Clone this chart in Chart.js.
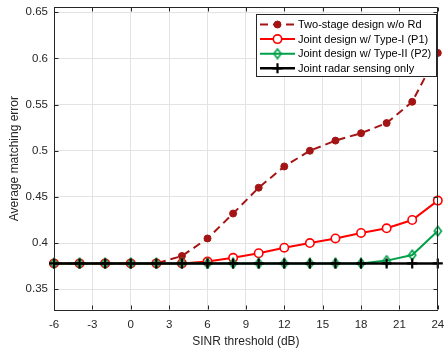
<!DOCTYPE html>
<html>
<head>
<meta charset="utf-8">
<script src="https://cdn.jsdelivr.net/npm/chart.js@4/dist/chart.umd.min.js"></script>
<style>
  html, body { margin: 0; padding: 0; background: #fff; }
  canvas { display: block; }
</style>
</head>
<body>
<canvas id="c" width="445" height="352"></canvas>
<script>
// SINR thresholds (dB) and average matching error per scheme
const sinr = [-6, -4, -2, 0, 2, 4, 6, 8, 10, 12, 14, 16, 18, 20, 22, 24];
const twoStage = [0.378, 0.378, 0.378, 0.378, 0.378, 0.386, 0.405, 0.432, 0.460, 0.483, 0.500, 0.511, 0.519, 0.530, 0.553, 0.606];
const typeI    = [0.378, 0.378, 0.378, 0.378, 0.378, 0.378, 0.380, 0.384, 0.389, 0.395, 0.400, 0.405, 0.411, 0.416, 0.425, 0.446];
const typeII   = [0.378, 0.378, 0.378, 0.378, 0.378, 0.378, 0.378, 0.378, 0.378, 0.378, 0.378, 0.378, 0.378, 0.381, 0.387, 0.413];
const radarOnly = [0.378, 0.378, 0.378, 0.378, 0.378, 0.378, 0.378, 0.378, 0.378, 0.378, 0.378, 0.378, 0.378, 0.378, 0.378, 0.378];

const seriesNames = [
  'Two-stage design w/o Rd',
  'Joint design w/ Type-I (P1)',
  'Joint design w/ Type-II (P2)',
  'Joint radar sensing only'
];

const xTicks = [-6, -3, 0, 3, 6, 9, 12, 15, 18, 21, 24];
const yTicks = [0.35, 0.4, 0.45, 0.5, 0.55, 0.6, 0.65];
const yTickLabels = ['0.35', '0.4', '0.45', '0.5', '0.55', '0.6', '0.65'];

const FONT = 'Liberation Sans, Arial, Helvetica, sans-serif';
const AXIS = '#262626';

// hollow, slightly tall diamond marker
function makeDiamond(color) {
  const c = document.createElement('canvas');
  c.width = 10; c.height = 12;
  const g = c.getContext('2d');
  g.strokeStyle = color;
  g.lineWidth = 1.6;
  g.beginPath();
  g.moveTo(5, 1.2); g.lineTo(8.6, 6); g.lineTo(5, 10.8); g.lineTo(1.4, 6); g.closePath();
  g.stroke();
  return c;
}
const diamond = makeDiamond('#00a04a');

const toPts = (ys) => sinr.map((v, i) => ({ x: v, y: ys[i] }));

const datasets = [
  {
    label: seriesNames[0], data: toPts(twoStage), order: 4,
    borderColor: '#a31515', borderWidth: 2, borderDash: [8, 5],
    pointStyle: 'circle', pointRadius: 3.5, pointBorderWidth: 1,
    pointBackgroundColor: '#a31515', pointBorderColor: '#a31515'
  },
  {
    label: seriesNames[1], data: toPts(typeI), order: 3,
    borderColor: '#ff0000', borderWidth: 2,
    pointStyle: 'circle', pointRadius: 4.2, pointBorderWidth: 1.6,
    pointBackgroundColor: '#ffffff', pointBorderColor: '#ff0000'
  },
  {
    label: seriesNames[2], data: toPts(typeII), order: 2,
    borderColor: '#00a04a', borderWidth: 2,
    pointStyle: diamond, pointRadius: 5,
    pointBackgroundColor: 'rgba(0,0,0,0)', pointBorderColor: '#00a04a'
  },
  {
    label: seriesNames[3], data: toPts(radarOnly), order: 1,
    borderColor: '#000000', borderWidth: 2.5,
    pointStyle: 'cross', pointRadius: 5, pointBorderWidth: 2.2,
    pointBackgroundColor: '#000000', pointBorderColor: '#000000'
  }
];

// box edges, inward tick marks and the boxed legend
const framePlugin = {
  id: 'frame',
  afterDatasetsDraw(chart) {
    const { ctx, chartArea: a, scales: { x, y } } = chart;
    const L = Math.round(a.left) + 0.5, R = Math.round(a.right) - 0.5;
    const T = Math.round(a.top) + 0.5, B = Math.round(a.bottom) - 0.5;
    ctx.save();
    ctx.strokeStyle = AXIS;
    ctx.lineWidth = 1;
    ctx.beginPath();
    ctx.moveTo(L, T); ctx.lineTo(R, T); ctx.lineTo(R, B);
    const tk = 4;
    xTicks.forEach(v => {
      const p = Math.round(x.getPixelForValue(v)) + 0.5;
      ctx.moveTo(p, B); ctx.lineTo(p, B - tk);
      ctx.moveTo(p, T); ctx.lineTo(p, T + tk);
    });
    yTicks.forEach(v => {
      const p = Math.round(y.getPixelForValue(v)) + 0.5;
      ctx.moveTo(L, p); ctx.lineTo(L + tk, p);
      ctx.moveTo(R, p); ctx.lineTo(R - tk, p);
    });
    ctx.stroke();

    // legend
    const box = { left: 256.5, top: 14.5, right: 436.5, bottom: 76.5 };
    ctx.fillStyle = '#ffffff';
    ctx.fillRect(box.left, box.top, box.right - box.left, box.bottom - box.top);
    ctx.strokeStyle = AXIS;
    ctx.lineWidth = 1;
    ctx.strokeRect(box.left, box.top, box.right - box.left, box.bottom - box.top);

    const rowY0 = 24.5, rowGap = 14.6;
    const x0 = 260, x1 = 295, tx = 298;
    ctx.font = '11px ' + FONT;
    ctx.textBaseline = 'middle';
    ctx.textAlign = 'left';
    chart.data.datasets.forEach((ds, i) => {
      const ry = rowY0 + i * rowGap;
      ctx.save();
      ctx.strokeStyle = ds.borderColor;
      ctx.lineWidth = ds.borderWidth;
      ctx.setLineDash(ds.borderDash || []);
      ctx.beginPath();
      ctx.moveTo(x0, ry); ctx.lineTo(x1, ry);
      ctx.stroke();
      ctx.setLineDash([]);
      const mx = (x0 + x1) / 2;
      if (ds.pointStyle instanceof HTMLCanvasElement) {
        ctx.drawImage(ds.pointStyle, mx - ds.pointStyle.width / 2, ry - ds.pointStyle.height / 2);
      } else {
        ctx.fillStyle = ds.pointBackgroundColor;
        ctx.strokeStyle = ds.pointBorderColor;
        ctx.lineWidth = ds.pointBorderWidth;
        Chart.helpers.drawPoint(ctx, {
          pointStyle: ds.pointStyle, radius: ds.pointRadius,
          borderWidth: ds.pointBorderWidth, rotation: 0
        }, mx, ry);
      }
      ctx.restore();
      ctx.fillStyle = '#000000';
      ctx.fillText(ds.label, tx, ry + 0.5);
    });
    ctx.restore();
  }
};

new Chart(document.getElementById('c'), {
  type: 'line',
  data: { datasets },
  options: {
    responsive: false,
    animation: false,
    devicePixelRatio: 1,
    clip: false,
    layout: { padding: { top: 5, right: 4, left: 0, bottom: 0 } },
    plugins: { legend: { display: false }, tooltip: { enabled: false } },
    elements: { line: { tension: 0 } },
    datasets: { line: { clip: false } },
    scales: {
      x: {
        type: 'linear', min: -6, max: 24,
        afterBuildTicks: s => { s.ticks = xTicks.map(v => ({ value: v })); },
        afterFit: s => { s.height = 42; s.paddingLeft = 0; s.paddingRight = 0; },
        grid: { color: '#e3e3e3', drawTicks: false, lineWidth: 1 },
        border: { display: true, color: AXIS, width: 1 },
        ticks: {
          color: AXIS, padding: 8, maxRotation: 0, autoSkip: false,
          font: { family: FONT, size: 11.5 },
          callback: v => String(v)
        },
        title: {
          display: true, text: 'SINR threshold (dB)', color: AXIS,
          font: { family: FONT, size: 12 }, padding: { top: 0, bottom: 3 }
        }
      },
      y: {
        type: 'linear', min: 0.3275, max: 0.6555,
        afterBuildTicks: s => { s.ticks = yTicks.map(v => ({ value: v })); },
        afterFit: s => { s.width = 54; s.paddingTop = 0; s.paddingBottom = 0; },
        grid: { color: '#e3e3e3', drawTicks: false, lineWidth: 1 },
        border: { display: true, color: AXIS, width: 1 },
        ticks: {
          color: AXIS, padding: 6, autoSkip: false,
          font: { family: FONT, size: 11.5 },
          callback: (v) => { const i = yTicks.indexOf(v); return i >= 0 ? yTickLabels[i] : ''; }
        },
        title: {
          display: true, text: 'Average matching error', color: AXIS,
          font: { family: FONT, size: 12 }, padding: { top: 7, bottom: 0 }
        }
      }
    }
  },
  plugins: [framePlugin]
});
</script>
</body>
</html>
